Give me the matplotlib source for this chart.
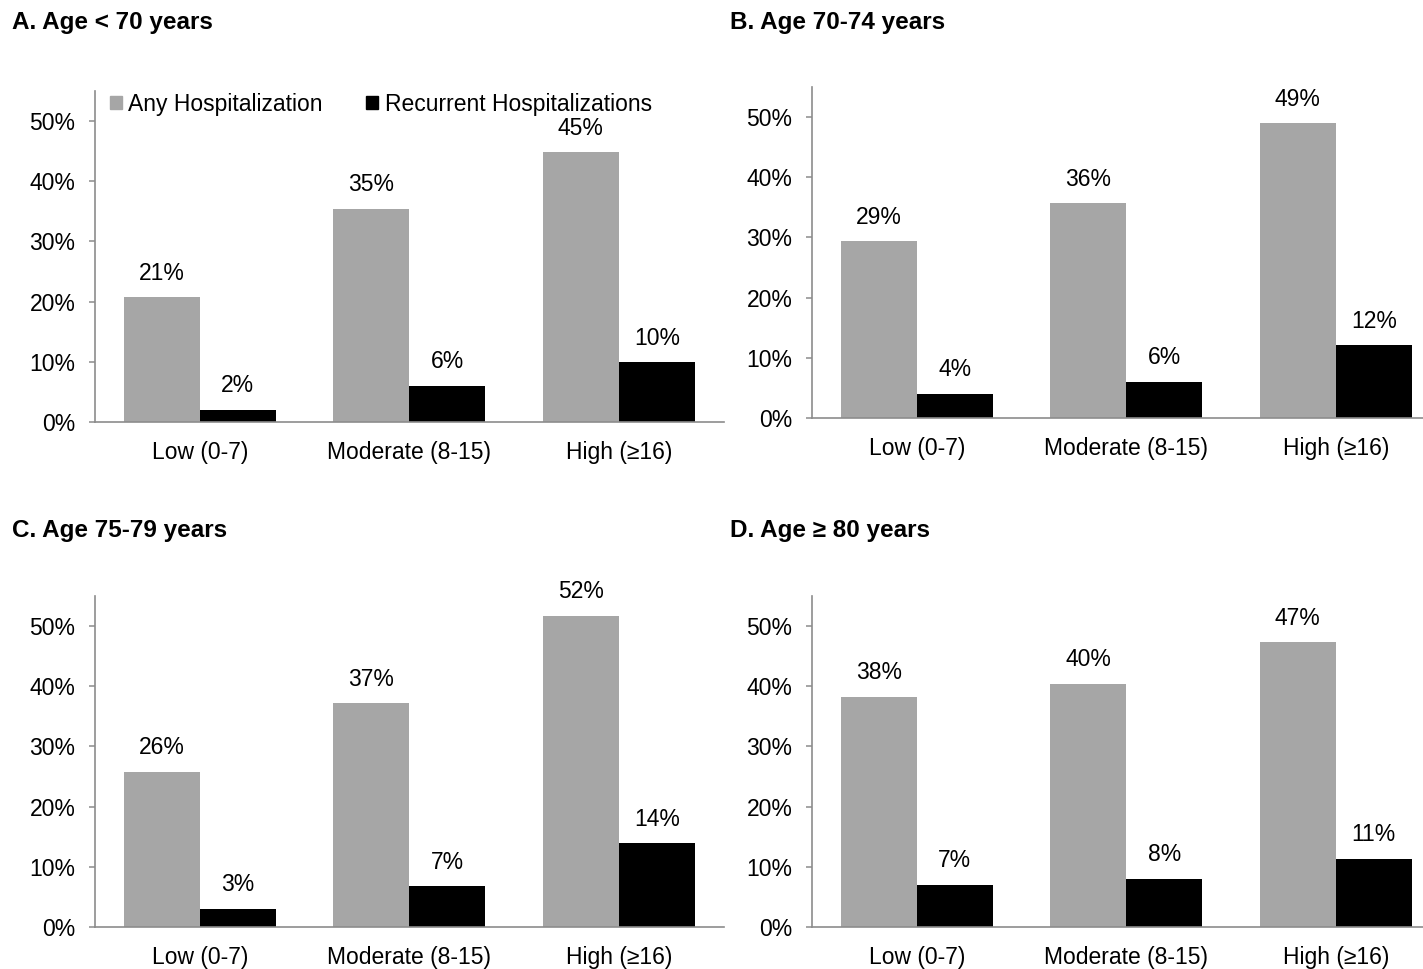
import matplotlib.pyplot as plt
from matplotlib.patches import Patch
import numpy as np

plt.rcParams['font.family'] = ['Liberation Sans', 'DejaVu Sans']

# data (percent)
categories = ['Low (0-7)', 'Moderate (8-15)', 'High (≥16)']
titles = ['A. Age < 70 years', 'B. Age 70-74 years', 'C. Age 75-79 years', 'D. Age ≥ 80 years']
any_hosp = [[20.7, 35.4, 44.8],
            [29.4, 35.7, 49.0],
            [25.8, 37.2, 51.7],
            [38.3, 40.4, 47.3]]
recurrent = [[2.0, 6.0, 9.9],
             [4.0, 6.0, 12.1],
             [3.0, 6.8, 13.9],
             [7.0, 8.0, 11.3]]
yticks = [0, 10, 20, 30, 40, 50]

W, H = 1423, 969
fig = plt.figure(figsize=(W / 100, H / 100), dpi=100)

# panel placement in pixels: (left x of y-axis, y of zero line, title x, title y)
panels = [(95, 422, 12, 22), (812, 418, 730, 22), (95, 927, 12, 530), (812, 927, 730, 530)]
ax_w = 628.5
ax_h = 331

gray = '#a6a6a6'
axis_col = '#8c8c8c'
fs = 16.5
bw = 0.363

for i, (x0, y0, tx, ty) in enumerate(panels):
    ax = fig.add_axes([x0 / W, (H - y0) / H, ax_w / W, ax_h / H])
    x = np.arange(len(categories))
    ax.bar(x - bw / 2, any_hosp[i], bw, color=gray, label='Any Hospitalization')
    ax.bar(x + bw / 2, recurrent[i], bw, color='black', label='Recurrent Hospitalizations')

    for xi, v in zip(x - bw / 2, any_hosp[i]):
        ax.annotate(f'{round(v)}%', (xi, v), xytext=(0, 9), textcoords='offset points',
                    ha='center', va='bottom', fontsize=fs)
    for xi, v in zip(x + bw / 2, recurrent[i]):
        ax.annotate(f'{round(v)}%', (xi, v), xytext=(0, 9), textcoords='offset points',
                    ha='center', va='bottom', fontsize=fs)

    ax.set_xlim(-0.5, 2.5)
    ax.set_ylim(0, 55)
    ax.set_yticks(yticks)
    ax.set_yticklabels([f'{t}%' for t in yticks], fontsize=fs)
    ax.set_xticks(x)
    ax.set_xticklabels(categories, fontsize=fs)
    ax.tick_params(axis='x', length=0, pad=14)
    ax.tick_params(axis='y', length=4, width=1.1, color=axis_col, pad=10)
    for s in ['top', 'right']:
        ax.spines[s].set_visible(False)
    for s in ['left', 'bottom']:
        ax.spines[s].set_color(axis_col)
        ax.spines[s].set_linewidth(1.2)
    ax.patch.set_alpha(0)

    fig.text(tx / W, 1 - ty / H, titles[i], fontsize=17.5, fontweight='bold', ha='left', va='center')

    if i == 0:
        handles = [Patch(color=gray), Patch(color='black')]
        ax.legend(handles, ['Any Hospitalization', 'Recurrent Hospitalizations'],
                  loc='upper left', bbox_to_anchor=(0.024, 0.995), ncol=2, frameon=False,
                  fontsize=fs, handlelength=0.5, handleheight=0.5, handletextpad=0.3,
                  columnspacing=1.9, borderpad=0, borderaxespad=0)

fig.savefig('out.png', dpi=100)
